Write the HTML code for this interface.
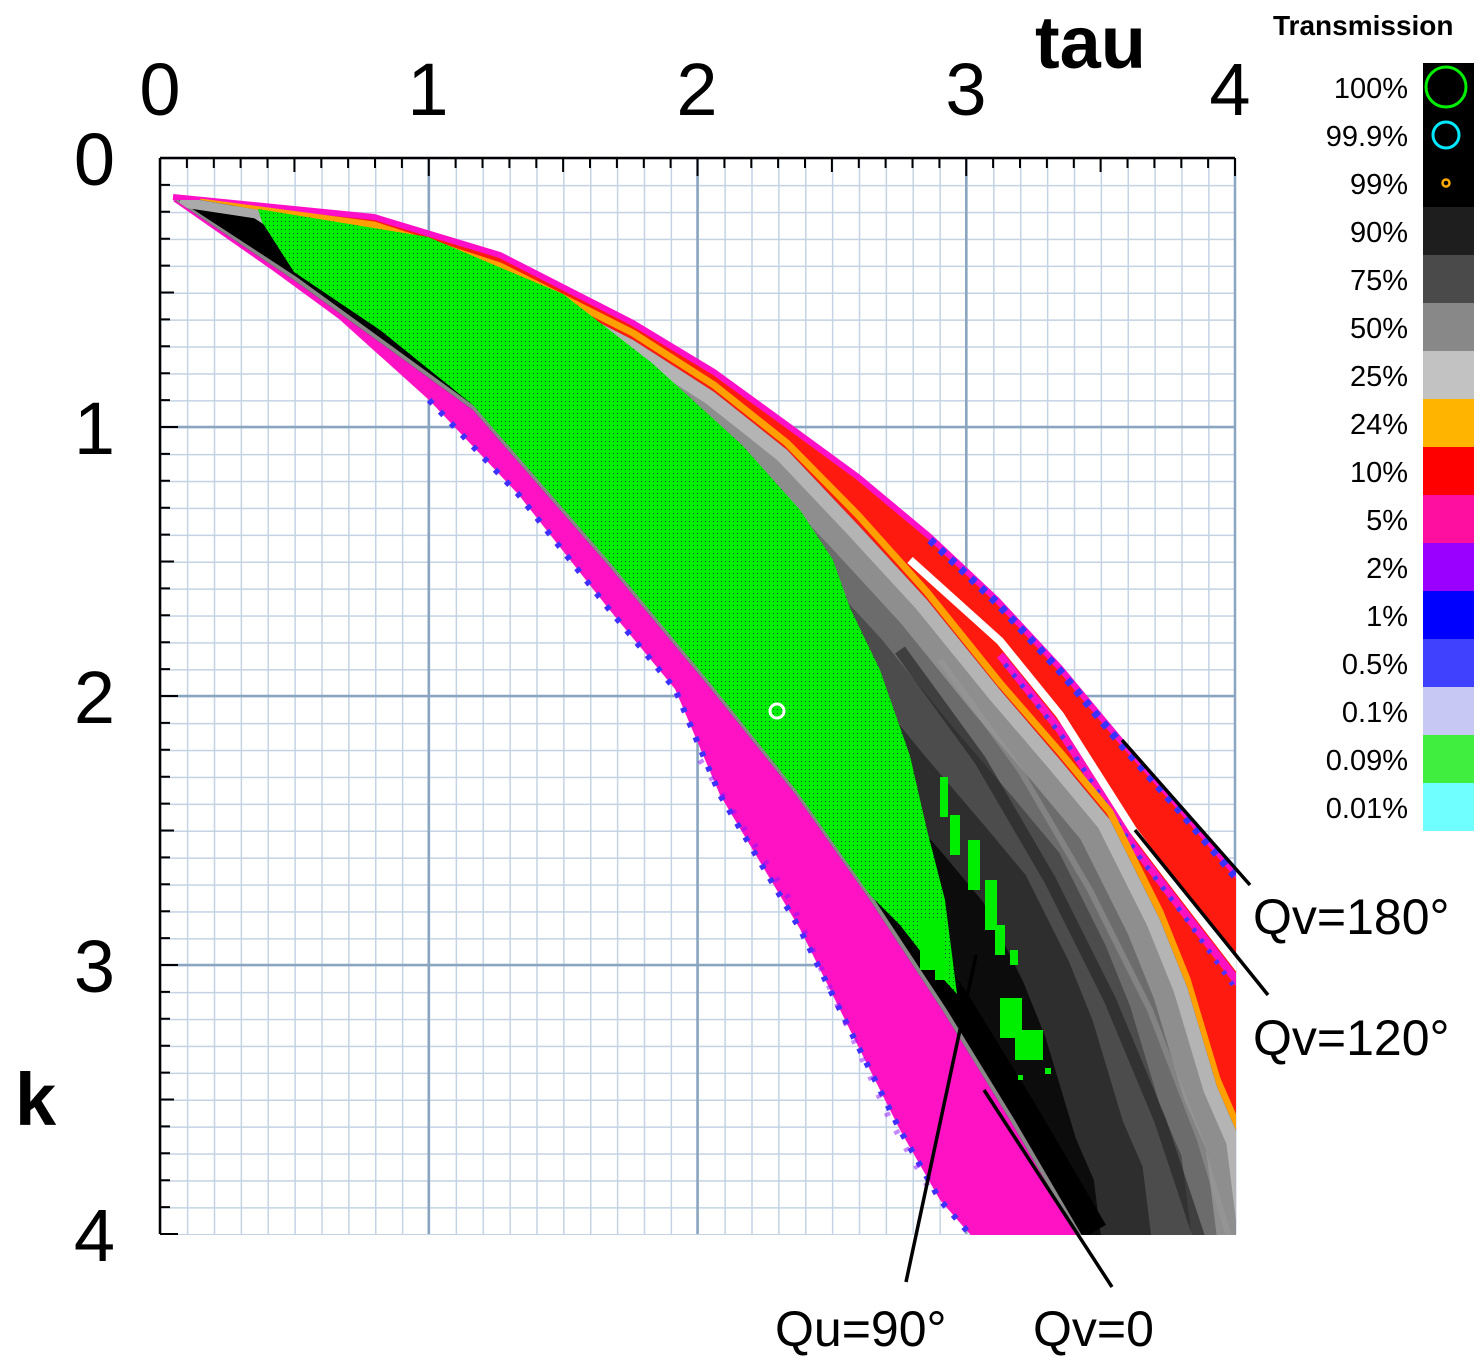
<!DOCTYPE html>
<html><head><meta charset="utf-8"><style>
html,body{margin:0;padding:0;background:#fff;}
svg{display:block;}
text{font-family:"Liberation Sans","DejaVu Sans",sans-serif;}
</style></head><body>
<svg width="1480" height="1370" viewBox="0 0 1480 1370" xmlns="http://www.w3.org/2000/svg">
<defs>
<pattern id="minor" x="160" y="158" width="26.875" height="26.9" patternUnits="userSpaceOnUse">
<rect width="26.875" height="26.9" fill="#fff"/>
<line x1="0" y1="0" x2="0" y2="26.9" stroke="#c3d3e3" stroke-width="3"/>
<line x1="0" y1="0" x2="26.875" y2="0" stroke="#c3d3e3" stroke-width="3"/>
</pattern>
<pattern id="dots" width="4" height="4" patternUnits="userSpaceOnUse">
<rect width="4" height="4" fill="#00ee00"/>
<rect x="1" y="1" width="1" height="1" fill="#052"/>
</pattern>
<clipPath id="plot"><rect x="160" y="158" width="1076" height="1077"/></clipPath>
<clipPath id="grayclip"><polygon points="200,200 374,230 500,272 633,340 714,392 787,450 858,525 927,600 1000,690 1060,760 1110,820 1160,920 1187,987 1217,1087 1240,1140 1240,1240 1080,1240 1010,1120 943,1011 870,900 796,795 711,689 608,565 473,410 294,280 175,200"/></clipPath>
</defs>

<rect x="160" y="158" width="1076" height="1077" fill="url(#minor)"/>
<g stroke="#8aa5c0" stroke-width="2.5">
<line x1="428.75" y1="158" x2="428.75" y2="1234"/>
<line x1="697.5" y1="158" x2="697.5" y2="1234"/>
<line x1="966.25" y1="158" x2="966.25" y2="1234"/>
<line x1="1235" y1="158" x2="1235" y2="1234"/>
<line x1="160" y1="427" x2="1235" y2="427"/>
<line x1="160" y1="696" x2="1235" y2="696"/>
<line x1="160" y1="965" x2="1235" y2="965"/>
</g>

<g clip-path="url(#plot)">
<!-- magenta lower band -->
<polygon points="173,201 272,270 339,319 429,400 518,494 608,608 675,689 720,795 800,929 850,1030 900,1130 940,1200 975,1240 1080,1240 1010,1120 943,1011 870,900 796,795 711,689 608,565 473,410 294,280 175,200" fill="#ff12c4"/>
<polyline points="429,400 518,494 608,608 675,689 720,795 800,929 850,1030 900,1130 940,1200 975,1240" fill="none" stroke="#4030ff" stroke-width="6" stroke-dasharray="5 11"/>
<polyline points="700,760 790,900 840,1010 890,1120 930,1190" fill="none" stroke="#8a10ff" stroke-width="6" stroke-dasharray="4 16" opacity="0.5"/>
<!-- upper strip: outer to gray -->
<polygon points="173,197 374,217 500,255 633,323 714,372 787,425 858,477 930,537 997,600 1060,668 1120,740 1180,808 1240,879 1240,1140 1217,1087 1187,987 1160,920 1110,820 1060,760 1000,690 927,600 858,525 787,450 714,392 633,340 500,272 374,230 200,200" fill="#ff1a10"/>
<polyline points="173,197 374,217 500,255 633,323 714,372 787,425 858,477 930,537 997,600 1060,668 1120,740 1180,808 1240,879" fill="none" stroke="#ff10c8" stroke-width="6"/>
<polyline points="930,540 997,603 1060,671 1120,743 1180,811 1240,882" fill="none" stroke="#3a30ff" stroke-width="8" stroke-dasharray="6 8"/>
<polyline points="910,560 1000,641 1060,715 1133,830 1180,892 1240,970" fill="none" stroke="#fff" stroke-width="8"/>
<polyline points="1000,655 1060,730 1133,845 1180,907 1240,985" fill="none" stroke="#ff10c0" stroke-width="8"/>
<polyline points="1005,664 1065,740 1138,855 1185,917 1240,995" fill="none" stroke="#5030ff" stroke-width="5" stroke-dasharray="4 9"/>
<polyline points="200,202 374,225 500,266 633,333 714,385 787,443 858,515 927,592 1000,683 1060,752 1110,812 1160,912 1187,979 1217,1079 1240,1132" fill="none" stroke="#ff9f00" stroke-width="7"/>
<!-- gray band -->
<polygon points="200,200 374,230 500,272 633,340 714,392 787,450 858,525 927,600 1000,690 1060,760 1110,820 1160,920 1187,987 1217,1087 1240,1140 1240,1240 1080,1240 1010,1120 943,1011 870,900 796,795 711,689 608,565 473,410 294,280 175,200" fill="#0c0c0c"/>
<g clip-path="url(#grayclip)" fill="none">
<polyline points="200,200 374,230 500,272 633,340 714,392 787,450 858,525 927,600 1000,690 1060,760 1110,820 1160,920 1187,987 1217,1087 1240,1140 1260,1300" stroke="#2e2e2e" stroke-width="300"/>
<polyline points="200,200 374,230 500,272 633,340 714,392 787,450 858,525 927,600 1000,690 1060,760 1110,820 1160,920 1187,987 1217,1087 1240,1140 1260,1300" stroke="#4c4c4c" stroke-width="200"/>
<polyline points="200,200 374,230 500,272 633,340 714,392 787,450 858,525 927,600 1000,690 1060,760 1110,820 1160,920 1187,987 1217,1087 1240,1140 1260,1300" stroke="#6c6c6c" stroke-width="120"/>
<polyline points="200,200 374,230 500,272 633,340 714,392 787,450 858,525 927,600 1000,690 1060,760 1110,820 1160,920 1187,987 1217,1087 1240,1140 1260,1300" stroke="#8e8e8e" stroke-width="70"/>
<polyline points="200,200 374,230 500,272 633,340 714,392 787,450 858,525 927,600 1000,690 1060,760 1110,820 1160,920 1187,987 1217,1087 1240,1140 1260,1300" stroke="#b4b4b4" stroke-width="28"/>
<polyline points="900,650 980,760 1050,880 1110,1000 1160,1120 1200,1240" stroke="#222" stroke-width="12" opacity="0.6"/>
<polyline points="940,660 1020,770 1090,890 1150,1010 1200,1140 1230,1240" stroke="#999" stroke-width="6" opacity="0.5"/>
<polyline points="173,201 294,280 473,410 608,565 711,689 796,795 870,900 943,1011 1010,1120 1080,1240" stroke="#000" stroke-width="60"/>
<polyline points="173,201 294,280 473,410 608,565 711,689 796,795 870,900 943,1011 1010,1120 1080,1240" stroke="#888" stroke-width="8"/>
<polyline points="180,200 260,212" stroke="#aaa" stroke-width="14"/>
</g>
<!-- green -->
<polygon points="258,209 428,237 563,294 652,363 742,445 800,510 833,560 850,608 880,670 910,756 927,830 945,900 957,994 935,970 900,925 870,895 796,790 711,684 608,560 473,405 380,330 294,272 262,222" fill="url(#dots)"/>
<g fill="#00ee00">
<rect x="940" y="777" width="8" height="40"/>
<rect x="950" y="815" width="10" height="40"/>
<rect x="968" y="840" width="12" height="50"/>
<rect x="985" y="880" width="12" height="50"/>
<rect x="995" y="925" width="10" height="30"/>
<rect x="1010" y="950" width="8" height="15"/>
<rect x="1000" y="998" width="22" height="40"/>
<rect x="1015" y="1030" width="28" height="30"/>
<rect x="1045" y="1068" width="6" height="6"/>
<rect x="1018" y="1075" width="5" height="5"/>
<rect x="920" y="920" width="25" height="50"/>
<rect x="935" y="960" width="12" height="20"/>
</g>
<circle cx="777" cy="711" r="7" fill="none" stroke="#fff" stroke-width="3"/>
</g>

<!-- axes -->
<g stroke="#000" stroke-width="2.5">
<line x1="160" y1="158" x2="1235" y2="158"/>
<line x1="160" y1="158" x2="160" y2="1234"/>
</g>
<g stroke="#000" stroke-width="2">
<path d="M186.9,158v10M213.8,158v10M240.6,158v10M267.5,158v10M294.4,158v14M321.3,158v10M348.1,158v10M375,158v10M401.9,158v10M428.75,158v18M455.6,158v10M482.5,158v10M509.4,158v10M536.3,158v10M563.1,158v14M590,158v10M616.9,158v10M643.8,158v10M670.6,158v10M697.5,158v18M724.4,158v10M751.3,158v10M778.1,158v10M805,158v10M831.9,158v14M858.8,158v10M885.6,158v10M912.5,158v10M939.4,158v10M966.25,158v18M993.1,158v10M1020,158v10M1046.9,158v10M1073.8,158v10M1100.6,158v14M1127.5,158v10M1154.4,158v10M1181.3,158v10M1208.1,158v10M1235,158v18"/>
<path d="M160,184.9h10M160,211.8h10M160,238.7h10M160,265.6h10M160,292.5h14M160,319.4h10M160,346.3h10M160,373.2h10M160,400.1h10M160,427h18M160,453.9h10M160,480.8h10M160,507.7h10M160,534.6h10M160,561.5h14M160,588.4h10M160,615.3h10M160,642.2h10M160,669.1h10M160,696h18M160,722.9h10M160,749.8h10M160,776.7h10M160,803.6h10M160,830.5h14M160,857.4h10M160,884.3h10M160,911.2h10M160,938.1h10M160,965h18M160,991.9h10M160,1018.8h10M160,1045.7h10M160,1072.6h10M160,1099.5h14M160,1126.4h10M160,1153.3h10M160,1180.2h10M160,1207.1h10M160,1234h18"/>
</g>
<g font-size="74" fill="#000" text-anchor="middle">
<text x="160" y="115">0</text>
<text x="428" y="115">1</text>
<text x="697" y="115">2</text>
<text x="966" y="115">3</text>
<text x="1230" y="115">4</text>
</g>
<g font-size="74" fill="#000" text-anchor="end">
<text x="115" y="185">0</text>
<text x="115" y="454">1</text>
<text x="115" y="723">2</text>
<text x="115" y="992">3</text>
<text x="115" y="1261">4</text>
</g>
<text x="1035" y="68" font-size="74" font-weight="bold">tau</text>
<text x="15" y="1125" font-size="74" font-weight="bold">k</text>

<!-- annotations -->
<g stroke="#000" stroke-width="3.5">
<line x1="1122" y1="740" x2="1250" y2="885"/>
<line x1="1135" y1="830" x2="1268" y2="995"/>
<line x1="976" y1="955" x2="906" y2="1282"/>
<line x1="984" y1="1090" x2="1112" y2="1287"/>
</g>
<g font-size="50" fill="#000">
<text x="1253" y="934">Qv=180°</text>
<text x="1253" y="1055">Qv=120°</text>
<text x="775" y="1346">Qu=90°</text>
<text x="1033" y="1346">Qv=0</text>
</g>

<!-- legend -->
<text x="1273" y="35" font-size="28" font-weight="bold">Transmission</text>
<g>
<rect x="1423" y="63" width="51" height="144" fill="#000"/>
<circle cx="1446" cy="87" r="20" fill="none" stroke="#00ee00" stroke-width="3"/>
<circle cx="1446" cy="135" r="13" fill="none" stroke="#00e8ff" stroke-width="3"/>
<circle cx="1446" cy="183" r="3.5" fill="none" stroke="#ffaa00" stroke-width="2.5"/>
<rect x="1423" y="207" width="51" height="48" fill="#1e1e1e"/>
<rect x="1423" y="255" width="51" height="48" fill="#4a4a4a"/>
<rect x="1423" y="303" width="51" height="48" fill="#888"/>
<rect x="1423" y="351" width="51" height="48" fill="#c2c2c2"/>
<rect x="1423" y="399" width="51" height="48" fill="#ffb400"/>
<rect x="1423" y="447" width="51" height="48" fill="#ff0000"/>
<rect x="1423" y="495" width="51" height="48" fill="#ff0fa0"/>
<rect x="1423" y="543" width="51" height="48" fill="#9a00ff"/>
<rect x="1423" y="591" width="51" height="48" fill="#0000ff"/>
<rect x="1423" y="639" width="51" height="48" fill="#4040ff"/>
<rect x="1423" y="687" width="51" height="48" fill="#c8c8f4"/>
<rect x="1423" y="735" width="51" height="48" fill="#40ee40"/>
<rect x="1423" y="783" width="51" height="48" fill="#70ffff"/>
</g>
<g font-size="29" fill="#000" text-anchor="end">
<text x="1408" y="98">100%</text>
<text x="1408" y="146">99.9%</text>
<text x="1408" y="194">99%</text>
<text x="1408" y="242">90%</text>
<text x="1408" y="290">75%</text>
<text x="1408" y="338">50%</text>
<text x="1408" y="386">25%</text>
<text x="1408" y="434">24%</text>
<text x="1408" y="482">10%</text>
<text x="1408" y="530">5%</text>
<text x="1408" y="578">2%</text>
<text x="1408" y="626">1%</text>
<text x="1408" y="674">0.5%</text>
<text x="1408" y="722">0.1%</text>
<text x="1408" y="770">0.09%</text>
<text x="1408" y="818">0.01%</text>
</g>
</svg>
</body></html>
